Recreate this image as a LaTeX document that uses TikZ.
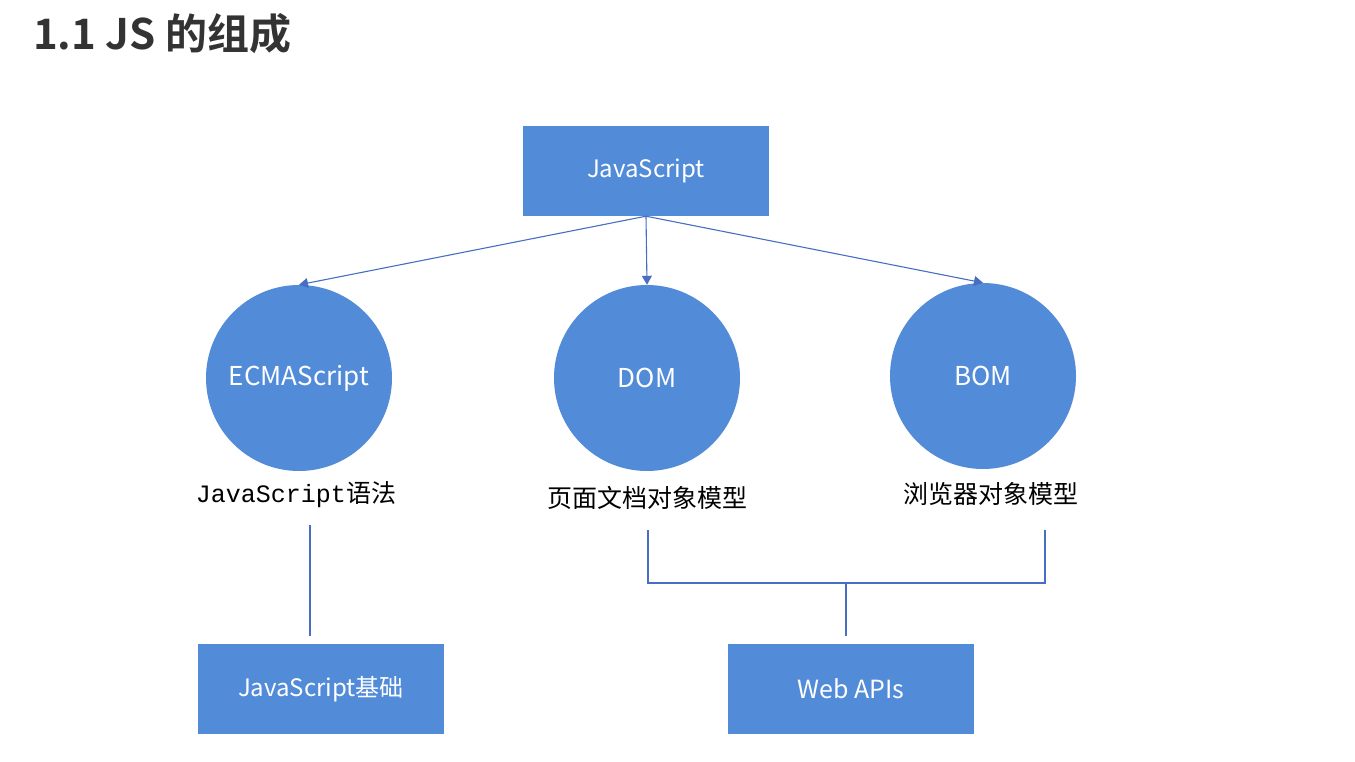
\documentclass[tikz,border=0pt]{standalone}
\usepackage{fontspec}
\setmainfont{Noto Sans CJK SC}
\newfontfamily\cjkbold{Noto Sans CJK SC Bold}
\newfontfamily\monofont{Liberation Mono}
\usetikzlibrary{arrows.meta}
\definecolor{boxblue}{RGB}{82,140,216}
\definecolor{linkblue}{RGB}{72,110,196}
\definecolor{titlegray}{RGB}{51,51,51}
\begin{document}
\begin{tikzpicture}[x=1pt,y=-1pt,
  bluebox/.style={fill=boxblue,draw=none,minimum width=246pt,minimum height=90pt,
    text=white,font=\fontsize{24}{28}\selectfont,inner sep=0pt},
  bluecircle/.style={circle,fill=boxblue,draw=none,minimum size=186pt,
    text=white,font=\fontsize{26}{30}\selectfont,inner sep=0pt},
  caption/.style={text=black,font=\fontsize{25}{30}\selectfont,inner sep=0pt},
  link/.style={draw=linkblue,line width=1.1pt},
  arrowlink/.style={link,-{Triangle[length=9pt,width=10pt]}}]
\useasboundingbox (0,0) rectangle (1355,762);
\fill[white] (0,0) rectangle (1355,762);

% title
\node[anchor=base west,inner sep=0pt,text=titlegray,font=\cjkbold\fontsize{42}{48}\selectfont]
  (title) at (33,50) {1.1 JS 的组成};

% top node
\node[bluebox] (js) at (646,171) {JavaScript};

% the three parts
\node[bluecircle] (ecma) at (299,378) {ECMAScript};
\node[bluecircle] (dom) at (647,378) {DOM};
\node[bluecircle] (bom) at (983,376) {BOM};

\draw[arrowlink] (js.south) -- (ecma.north);
\draw[arrowlink] (js.south) -- (dom.north);
\draw[arrowlink] (js.south) -- (bom.north);

% captions under the circles
\node[caption] (ecmacap) at (296,495) {{\monofont\fontsize{25}{30}\selectfont JavaScript}语法};
\node[caption] (domcap) at (647,498) {页面文档对象模型};
\node[caption] (bomcap) at (991,494) {浏览器对象模型};

% bottom nodes
\node[bluebox] (base) at (321,689) {JavaScript基础};
\node[bluebox,font=\fontsize{25}{30}\selectfont] (apis) at (851,689) {Web APIs};

% connectors to the bottom nodes
\coordinate (ecmadown) at (310,525);
\coordinate (basetop) at (310,636);
\draw[link] (ecmadown) -- (basetop);

\coordinate (domdown) at (648,530);
\coordinate (bomdown) at (1045,530);
\coordinate (join) at (846,583);
\coordinate (apistop) at (846,636);
\draw[link] (domdown) |- (join) -| (bomdown);
\draw[link] (join) -- (apistop);
\end{tikzpicture}
\end{document}
